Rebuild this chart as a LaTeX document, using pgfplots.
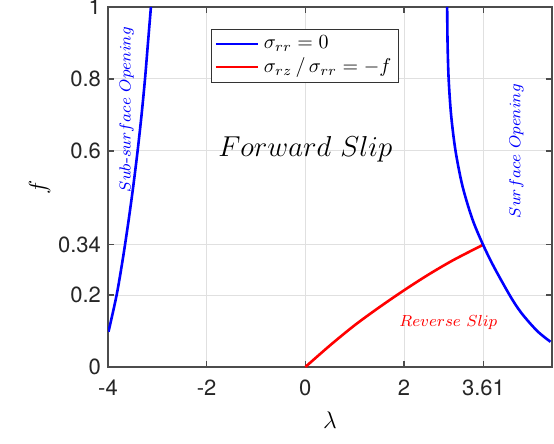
\documentclass[border=0pt]{standalone}
\usepackage{amsmath}
\usepackage{fontspec}
\usepackage{pgfplots}
\pgfplotsset{compat=1.18}
\newfontfamily\heros{TeX Gyre Heros}

\begin{document}
\begin{tikzpicture}
\begin{axis}[
  scale only axis,
  width=222pt, height=180pt,
  xmin=-4, xmax=5, ymin=0, ymax=1,
  xtick={-4,-2,0,2,3.61},
  xticklabels={-4,-2,0,2,3.61},
  ytick={0,0.2,0.34,0.6,0.8,1},
  yticklabels={0,0.2,0.34,0.6,0.8,1},
  tick label style={font=\heros\fontsize{11}{13}\selectfont, text=black!85},
  xticklabel style={yshift=-3pt},
  xlabel={$\lambda$}, ylabel={$f$},
  label style={font=\fontsize{12}{14}\selectfont},
  xlabel style={yshift=-1pt},
  ylabel style={yshift=-3pt},
  grid=major, grid style={black!12, line width=0.5pt},
  axis line style={black!70, line width=0.6pt},
  tick style={black!70, line width=0.6pt},
  tick align=inside, major tick length=3pt,
  legend style={at={(0.232,0.94)}, anchor=north west, draw=black!80,
    font=\fontsize{10}{12}\selectfont, line width=0.5pt,
    inner sep=1.5pt, row sep=-1pt},
  legend cell align=left,
  legend image post style={line width=1.3pt},
  legend image code/.code={\draw[#1] (0cm,0cm) -- (0.75cm,0cm);},
]
% sigma_rr = 0, left branch (sub-surface opening)
\addplot[blue, line width=1.3pt, mark=none, smooth] coordinates {
  (-3.99,0.098) (-3.825,0.2) (-3.70,0.3) (-3.59,0.4) (-3.49,0.5)
  (-3.40,0.6) (-3.32,0.7) (-3.25,0.8) (-3.19,0.9) (-3.13,1.0)
};
\addlegendentry{$\sigma_{rr}=0$}
\addplot[red, line width=1.3pt, mark=none, smooth] coordinates {
  (0,0) (0.5,0.060) (1.0,0.116) (1.5,0.166) (2.0,0.213)
  (2.5,0.257) (3.0,0.297) (3.61,0.34)
};
\addlegendentry{$\sigma_{rz}\,/\,\sigma_{rr}=-f$}
% sigma_rr = 0, right branch (surface opening)
\addplot[blue, line width=1.3pt, mark=none, smooth, forget plot] coordinates {
  (2.875,1.0) (2.883,0.9) (2.905,0.8) (2.955,0.7) (3.045,0.6)
  (3.19,0.5) (3.415,0.4) (3.74,0.3) (4.14,0.2)
  (4.38,0.15) (4.70,0.10) (4.97,0.07)
};
\node[blue, rotate=90, font=\fontsize{8.5}{10}\selectfont] at (axis cs:-3.62,0.715)
  {$Sub\text{-}surface\ Opening$};
\node[blue, rotate=90, font=\fontsize{8.5}{10}\selectfont] at (axis cs:4.28,0.60)
  {$Surface\ Opening$};
\node[black, font=\fontsize{14}{16}\selectfont] at (axis cs:0,0.605)
  {$Forward\ Slip$};
\node[red, font=\fontsize{8}{10}\selectfont] at (axis cs:2.90,0.123)
  {$Reverse\ Slip$};
\end{axis}
\pgfresetboundingbox
\path (current axis.south west) ++(-54pt,-38pt) coordinate (bbl);
\path (current axis.north east) ++(1pt,3.5pt) coordinate (bbr);
\useasboundingbox (bbl) rectangle (bbr);
\end{tikzpicture}
\end{document}
